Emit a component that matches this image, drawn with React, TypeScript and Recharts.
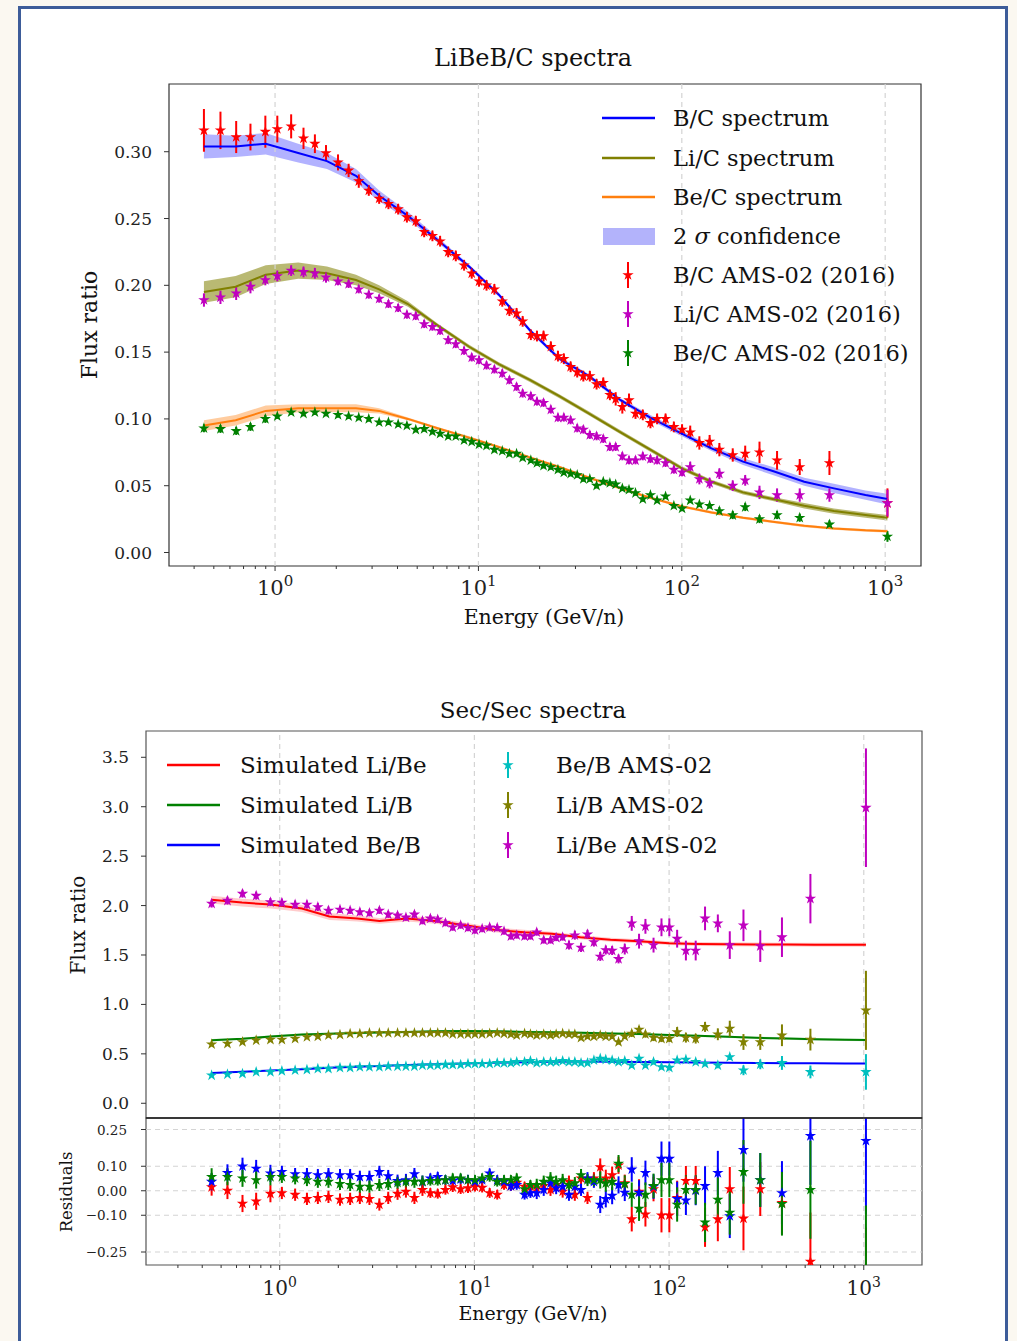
import React from 'react';
import {
  ComposedChart,
  Line,
  Area,
  Scatter,
  ErrorBar,
  XAxis,
  YAxis,
  ZAxis,
  ReferenceLine,
  ReferenceArea,
  Symbols
} from 'recharts';

// ============================================
// DATOS
// ============================================

const FONT = '"DejaVu Serif", serif';

// kinetic energy per nucleon (GeV/n) of the AMS-02 bins
const energy = [
  0.447, 0.539, 0.644, 0.757, 0.896, 1.026, 1.2, 1.38, 1.57, 1.78,
  2.04, 2.3, 2.58, 2.89, 3.25, 3.61, 4.03, 4.45, 4.92, 5.41,
  5.94, 6.48, 7.1, 7.74, 8.5, 9.27, 10.07, 10.96, 11.98, 13.1,
  14.2, 15.4, 16.5, 18.1, 19.4, 20.9, 22.7, 24.6, 26.3, 28.4,
  30.6, 32.8, 35.3, 38.1, 41.1, 44.3, 47.3, 51.0, 55.0, 59.2,
  64.3, 70.1, 75.6, 83.2, 91.4, 100.3, 110, 122, 137, 153,
  178, 205, 241, 294, 380, 532, 1026
];

const bcRatio = [
  0.316, 0.316, 0.311, 0.311, 0.315, 0.317, 0.319, 0.31, 0.306, 0.299,
  0.292, 0.286, 0.278, 0.271, 0.265, 0.261, 0.257, 0.251, 0.248, 0.24,
  0.237, 0.233, 0.225, 0.222, 0.215, 0.209, 0.203, 0.2, 0.197, 0.188,
  0.181, 0.179, 0.173, 0.163, 0.162, 0.162, 0.154, 0.147, 0.145, 0.139,
  0.135, 0.132, 0.132, 0.126, 0.127, 0.118, 0.115, 0.109, 0.114, 0.104,
  0.103, 0.097, 0.1, 0.1, 0.094, 0.092, 0.09, 0.082, 0.083, 0.077,
  0.073, 0.074, 0.075, 0.069, 0.064, 0.067, 0.037
];
const bcErr = [
  0.016, 0.014, 0.012, 0.01, 0.012, 0.01, 0.009, 0.008, 0.007, 0.006,
  0.006, 0.005, 0.005, 0.004, 0.004, 0.004, 0.004, 0.004, 0.004, 0.004,
  0.004, 0.004, 0.004, 0.004, 0.004, 0.004, 0.004, 0.004, 0.004, 0.004,
  0.004, 0.004, 0.004, 0.004, 0.004, 0.004, 0.004, 0.004, 0.004, 0.004,
  0.004, 0.004, 0.004, 0.004, 0.004, 0.004, 0.005, 0.005, 0.005, 0.004,
  0.004, 0.004, 0.004, 0.004, 0.004, 0.004, 0.005, 0.005, 0.005, 0.005,
  0.005, 0.006, 0.008, 0.007, 0.006, 0.009, 0.011
];

const liRatio = [
  0.189, 0.191, 0.194, 0.199, 0.204, 0.207, 0.211, 0.21, 0.209, 0.206,
  0.203, 0.201, 0.197, 0.193, 0.19, 0.186, 0.183, 0.178, 0.177, 0.171,
  0.169, 0.166, 0.159, 0.156, 0.151, 0.146, 0.144, 0.14, 0.137, 0.134,
  0.129, 0.124, 0.119, 0.117, 0.113, 0.112, 0.107, 0.101, 0.101, 0.099,
  0.093, 0.092, 0.088, 0.087, 0.085, 0.079, 0.079, 0.072, 0.069, 0.069,
  0.072, 0.07, 0.069, 0.067, 0.062, 0.06, 0.064, 0.055, 0.052, 0.059,
  0.05, 0.054, 0.045, 0.043, 0.043, 0.043, 0.037
];
const liErr = [
  0.005, 0.005, 0.005, 0.005, 0.004, 0.004, 0.004, 0.004, 0.004, 0.004,
  0.003, 0.003, 0.003, 0.003, 0.003, 0.003, 0.003, 0.003, 0.003, 0.003,
  0.003, 0.003, 0.003, 0.003, 0.003, 0.003, 0.003, 0.003, 0.003, 0.003,
  0.003, 0.003, 0.003, 0.003, 0.003, 0.003, 0.003, 0.003, 0.003, 0.003,
  0.003, 0.003, 0.003, 0.003, 0.003, 0.003, 0.003, 0.003, 0.003, 0.003,
  0.003, 0.003, 0.003, 0.003, 0.003, 0.003, 0.004, 0.004, 0.004, 0.004,
  0.004, 0.004, 0.005, 0.005, 0.005, 0.005, 0.01
];

const beRatio = [
  0.093, 0.0925, 0.091, 0.094, 0.1, 0.102, 0.105, 0.104, 0.105, 0.104,
  0.103, 0.102, 0.101, 0.1, 0.0975, 0.0975, 0.096, 0.095, 0.092, 0.0925,
  0.0905, 0.089, 0.087, 0.087, 0.084, 0.083, 0.081, 0.08, 0.077, 0.076,
  0.074, 0.074, 0.071, 0.069, 0.067, 0.065, 0.064, 0.062, 0.06, 0.059,
  0.058, 0.055, 0.055, 0.05, 0.053, 0.052, 0.051, 0.048, 0.047, 0.0445,
  0.04, 0.043, 0.039, 0.042, 0.035, 0.033, 0.039, 0.036, 0.035, 0.031,
  0.028, 0.034, 0.025, 0.028, 0.026, 0.021, 0.012
];
const beErr = [
  0.003, 0.003, 0.003, 0.003, 0.003, 0.002, 0.002, 0.002, 0.002, 0.002,
  0.002, 0.002, 0.002, 0.002, 0.002, 0.002, 0.002, 0.002, 0.002, 0.002,
  0.002, 0.002, 0.002, 0.002, 0.002, 0.002, 0.002, 0.002, 0.002, 0.002,
  0.002, 0.002, 0.002, 0.002, 0.002, 0.002, 0.002, 0.002, 0.002, 0.002,
  0.002, 0.002, 0.002, 0.002, 0.002, 0.002, 0.002, 0.002, 0.002, 0.002,
  0.002, 0.002, 0.002, 0.002, 0.002, 0.002, 0.002, 0.002, 0.002, 0.003,
  0.003, 0.003, 0.003, 0.003, 0.003, 0.003, 0.004
];

const libeRatio = [
  2.02, 2.05, 2.12, 2.1, 2.035, 2.03, 2.01, 2.01, 1.985, 1.95,
  1.96, 1.95, 1.935, 1.925, 1.95, 1.91, 1.9, 1.88, 1.91, 1.845,
  1.87, 1.86, 1.825, 1.78, 1.8, 1.775, 1.75, 1.765, 1.78, 1.775,
  1.74, 1.69, 1.7, 1.69, 1.69, 1.73, 1.65, 1.65, 1.675, 1.68,
  1.6, 1.7, 1.575, 1.71, 1.63, 1.485, 1.55, 1.545, 1.46, 1.56,
  1.82, 1.64, 1.79, 1.6, 1.78, 1.78, 1.665, 1.545, 1.545, 1.87,
  1.82, 1.6, 1.8, 1.59, 1.68, 2.07, 2.99
];
const libeErr = [
  0.04, 0.04, 0.04, 0.04, 0.04, 0.04, 0.04, 0.04, 0.04, 0.04,
  0.035, 0.035, 0.035, 0.035, 0.035, 0.035, 0.035, 0.035, 0.035, 0.035,
  0.035, 0.035, 0.035, 0.035, 0.035, 0.035, 0.035, 0.035, 0.035, 0.035,
  0.035, 0.035, 0.035, 0.035, 0.035, 0.035, 0.035, 0.035, 0.035, 0.035,
  0.045, 0.045, 0.045, 0.045, 0.045, 0.045, 0.045, 0.045, 0.045, 0.055,
  0.075, 0.075, 0.075, 0.075, 0.09, 0.09, 0.09, 0.1, 0.1, 0.12,
  0.09, 0.14, 0.16, 0.16, 0.2, 0.25, 0.6
];

const libRatio = [
  0.597, 0.603, 0.62, 0.637, 0.644, 0.644, 0.654, 0.67, 0.677, 0.688,
  0.694, 0.704, 0.704, 0.711, 0.711, 0.711, 0.711, 0.711, 0.711, 0.711,
  0.711, 0.711, 0.711, 0.7, 0.7, 0.7, 0.7, 0.7, 0.705, 0.711,
  0.705, 0.698, 0.688, 0.705, 0.698, 0.688, 0.698, 0.688, 0.698, 0.705,
  0.698, 0.698, 0.664, 0.677, 0.677, 0.688, 0.677, 0.677, 0.62, 0.677,
  0.705, 0.745, 0.698, 0.664, 0.654, 0.654, 0.721, 0.664, 0.654, 0.772,
  0.698, 0.755, 0.62, 0.62, 0.688, 0.644, 0.94
];
const libErr = [
  0.02, 0.02, 0.02, 0.02, 0.02, 0.02, 0.02, 0.02, 0.02, 0.02,
  0.02, 0.02, 0.02, 0.02, 0.02, 0.02, 0.02, 0.02, 0.02, 0.02,
  0.02, 0.02, 0.02, 0.02, 0.02, 0.02, 0.02, 0.02, 0.02, 0.02,
  0.02, 0.02, 0.02, 0.02, 0.02, 0.02, 0.02, 0.02, 0.02, 0.02,
  0.025, 0.025, 0.025, 0.025, 0.025, 0.025, 0.025, 0.025, 0.025, 0.025,
  0.035, 0.035, 0.035, 0.035, 0.035, 0.035, 0.05, 0.05, 0.05, 0.05,
  0.06, 0.08, 0.08, 0.08, 0.11, 0.11, 0.4
];

const bebRatio = [
  0.283, 0.293, 0.3, 0.317, 0.317, 0.327, 0.334, 0.34, 0.35, 0.35,
  0.36, 0.36, 0.367, 0.367, 0.367, 0.374, 0.374, 0.374, 0.374, 0.384,
  0.384, 0.384, 0.39, 0.39, 0.39, 0.4, 0.4, 0.4, 0.4, 0.408,
  0.408, 0.408, 0.418, 0.418, 0.428, 0.408, 0.418, 0.418, 0.418, 0.428,
  0.418, 0.418, 0.408, 0.408, 0.435, 0.452, 0.442, 0.435, 0.418, 0.428,
  0.384, 0.452, 0.384, 0.418, 0.367, 0.36, 0.435, 0.442, 0.418, 0.4,
  0.384, 0.468, 0.334, 0.394, 0.408, 0.317, 0.317
];
const bebErr = [
  0.015, 0.015, 0.015, 0.015, 0.015, 0.015, 0.015, 0.015, 0.015, 0.015,
  0.015, 0.015, 0.015, 0.015, 0.015, 0.015, 0.015, 0.015, 0.015, 0.015,
  0.015, 0.015, 0.015, 0.015, 0.015, 0.015, 0.015, 0.015, 0.015, 0.015,
  0.015, 0.015, 0.015, 0.015, 0.015, 0.015, 0.015, 0.015, 0.015, 0.015,
  0.015, 0.015, 0.015, 0.015, 0.015, 0.015, 0.015, 0.015, 0.015, 0.015,
  0.025, 0.025, 0.025, 0.025, 0.025, 0.025, 0.025, 0.025, 0.025, 0.025,
  0.03, 0.03, 0.05, 0.05, 0.07, 0.065, 0.18
];

// residuals: red = Li/Be, green = Li/B, blue = Be/B
const resLiBe = [
  0.015, 0.001, -0.052, -0.043, -0.012, -0.009, -0.016, -0.033, -0.029, -0.025,
  -0.036, -0.033, -0.029, -0.033, -0.056, -0.029, -0.012, -0.003, -0.029, 0.004,
  -0.009, -0.012, 0.004, 0.015, 0.007, 0.011, 0.017, 0.013, -0.009, -0.016,
  0.024, 0.02, 0.033, 0.017, 0.017, 0.011, 0.02, 0.004, 0.024, -0.003,
  0.037, -0.016, 0.051, -0.029, 0.051, 0.097, 0.051, 0.064, 0.104, 0.031,
  -0.116, -0.003, -0.096, 0.007, -0.1, -0.1, -0.029, 0.041, 0.041, -0.149,
  -0.116, 0.007, -0.113, 0.007, -0.049, -0.289, -0.45
];
const resLiB = [
  0.057, 0.057, 0.051, 0.044, 0.057, 0.057, 0.051, 0.044, 0.037, 0.037,
  0.028, 0.024, 0.017, 0.017, 0.024, 0.028, 0.033, 0.037, 0.037, 0.037,
  0.041, 0.041, 0.044, 0.051, 0.051, 0.044, 0.044, 0.051, 0.057, 0.037,
  0.044, 0.044, 0.051, 0.007, 0.024, 0.024, 0.037, 0.051, 0.037, 0.044,
  0.024, 0.031, 0.064, 0.044, 0.044, 0.044, 0.031, 0.037, 0.111, 0.028,
  -0.016, -0.073, -0.016, 0.02, 0.044, 0.044, -0.056, 0.004, 0.004, -0.129,
  -0.036, -0.089, 0.077, 0.044, -0.053, 0.004, -0.36
];
const resBeB = [
  0.037, 0.073, 0.1, 0.091, 0.071, 0.077, 0.068, 0.068, 0.064, 0.068,
  0.064, 0.064, 0.057, 0.057, 0.077, 0.06, 0.041, 0.044, 0.068, 0.037,
  0.051, 0.057, 0.044, 0.041, 0.047, 0.044, 0.037, 0.044, 0.071, 0.044,
  0.037, 0.02, 0.024, -0.016, -0.009, -0.009, 0.004, 0.031, 0.011, 0.017,
  -0.016, 0.017, 0.004, 0.051, 0.037, -0.056, -0.033, -0.02, 0.024, -0.007,
  0.087, -0.007, 0.073, 0.017, 0.131, 0.131, -0.033, -0.039, 0.001, 0.02,
  0.073, -0.103, 0.167, 0.044, -0.009, 0.224, 0.204
];
const resErr = [
  0.035, 0.035, 0.035, 0.035, 0.035, 0.025, 0.025, 0.025, 0.025, 0.025,
  0.025, 0.025, 0.025, 0.025, 0.025, 0.025, 0.025, 0.025, 0.025, 0.025,
  0.02, 0.02, 0.02, 0.02, 0.02, 0.02, 0.02, 0.02, 0.02, 0.02,
  0.02, 0.02, 0.02, 0.02, 0.02, 0.025, 0.025, 0.025, 0.025, 0.025,
  0.025, 0.025, 0.025, 0.025, 0.025, 0.035, 0.035, 0.035, 0.035, 0.035,
  0.05, 0.05, 0.05, 0.05, 0.07, 0.07, 0.07, 0.06, 0.06, 0.08,
  0.09, 0.09, 0.13, 0.11, 0.13, 0.2, 0.3
];

// simulated spectra (model grid)
const modelEnergy = [
  0.447, 0.64, 0.9, 1.3, 1.8, 2.5, 3.25, 4.5, 6.3, 9, 12.6, 18,
  25, 35, 50, 70, 100, 140, 200, 280, 400, 560, 800, 1026
];
const bcModel = [
  0.304, 0.304, 0.306, 0.299, 0.293, 0.282, 0.267, 0.252, 0.234, 0.214, 0.193, 0.166,
  0.145, 0.132, 0.114, 0.101, 0.089, 0.078, 0.068, 0.061, 0.053, 0.048, 0.043, 0.04
];
const bcBandW = [
  0.009, 0.008, 0.008, 0.007, 0.006, 0.005, 0.004, 0.003, 0.002, 0.0015, 0.0015, 0.0015,
  0.0015, 0.0015, 0.0015, 0.002, 0.002, 0.002, 0.0025, 0.003, 0.003, 0.0035, 0.0035, 0.004
];
const liModel = [
  0.195, 0.199, 0.208, 0.211, 0.209, 0.204, 0.197, 0.186, 0.17, 0.154, 0.141, 0.129,
  0.117, 0.104, 0.09, 0.077, 0.063, 0.053, 0.045, 0.04, 0.035, 0.031, 0.028, 0.026
];
const liBandW = [
  0.008, 0.008, 0.007, 0.006, 0.005, 0.004, 0.003, 0.002, 0.0015, 0.0015, 0.0015, 0.0015,
  0.0015, 0.0015, 0.0015, 0.0015, 0.0015, 0.0015, 0.0015, 0.0015, 0.002, 0.002, 0.002, 0.002
];
const beModel = [
  0.095, 0.099, 0.106, 0.108, 0.108, 0.108, 0.106, 0.1, 0.093, 0.086, 0.079, 0.071,
  0.064, 0.056, 0.048, 0.041, 0.0345, 0.03, 0.026, 0.023, 0.02, 0.018, 0.0166, 0.016
];
const beBandW = [
  0.004, 0.004, 0.004, 0.003, 0.003, 0.003, 0.002, 0.001, 0.001, 0.001, 0.001, 0.001,
  0.001, 0.001, 0.001, 0.001, 0.001, 0.001, 0.001, 0.001, 0.001, 0.001, 0.001, 0.001
];
const libeModel = [
  2.06, 2.03, 2.01, 1.97, 1.89, 1.87, 1.845, 1.87, 1.845, 1.8, 1.756, 1.73,
  1.715, 1.68, 1.655, 1.64, 1.62, 1.612, 1.608, 1.606, 1.605, 1.604, 1.603, 1.603
];
const libeBandW = [
  0.04, 0.04, 0.04, 0.035, 0.035, 0.03, 0.03, 0.03, 0.03, 0.025, 0.025, 0.025,
  0.02, 0.02, 0.02, 0.02, 0.02, 0.02, 0.02, 0.02, 0.02, 0.02, 0.02, 0.02
];
const libModel = [
  0.637, 0.652, 0.675, 0.695, 0.703, 0.71, 0.715, 0.722, 0.728, 0.73, 0.728, 0.722,
  0.718, 0.713, 0.707, 0.7, 0.69, 0.682, 0.672, 0.662, 0.655, 0.648, 0.642, 0.64
];
const bebModel = [
  0.307, 0.318, 0.332, 0.345, 0.36, 0.37, 0.378, 0.387, 0.394, 0.402, 0.41, 0.416,
  0.42, 0.422, 0.42, 0.418, 0.415, 0.412, 0.41, 0.408, 0.406, 0.405, 0.403, 0.402
];

// axis ranges
const TOP_X = [0.301, 1500];
const TOP_Y = [-0.0101, 0.3507];
const BOT_X = [0.2057, 1991];
const BOT_Y = [-0.149, 3.766];
const RES_Y = [-0.303, 0.297];

const topYTicks = [0, 0.05, 0.1, 0.15, 0.2, 0.25, 0.3];
const botYTicks = [0, 0.5, 1, 1.5, 2, 2.5, 3, 3.5];
const resYTicks = [-0.25, -0.1, 0, 0.1, 0.25];
const decades = [1, 10, 100, 1000];

// ============================================
// HELPERS
// ============================================

const logTicks = (lo: number, hi: number) => {
  const t: number[] = [];
  for (let e = -1; e <= 3; e++) {
    for (let m = 1; m < 10; m++) {
      const v = +(m * Math.pow(10, e)).toPrecision(3);
      if (v >= lo && v <= hi) t.push(v);
    }
  }
  return t;
};

const points = (ys: number[], errs: number[]) =>
  energy.map((x, i) => ({ x, y: ys[i], err: errs[i] }));

const topModel = modelEnergy.map((x, i) => ({
  x,
  bc: bcModel[i],
  bcBand: [bcModel[i] - bcBandW[i], bcModel[i] + bcBandW[i]],
  li: liModel[i],
  liBand: [liModel[i] - liBandW[i], liModel[i] + liBandW[i]],
  be: beModel[i],
  beBand: [beModel[i] - beBandW[i], beModel[i] + beBandW[i]]
}));

const botModel = modelEnergy.map((x, i) => ({
  x,
  libe: libeModel[i],
  libeBand: [libeModel[i] - libeBandW[i], libeModel[i] + libeBandW[i]],
  lib: libModel[i],
  libBand: [libModel[i] - 0.012, libModel[i] + 0.012],
  beb: bebModel[i],
  bebBand: [bebModel[i] - 0.006, bebModel[i] + 0.006]
}));

const makeLogTick = (size: number, supSize: number, dy: number) => (props: any) => {
  const { x, y, payload } = props;
  const e = Math.log10(payload.value);
  const major = Math.abs(e - Math.round(e)) < 1e-6;
  return (
    <g>
      <line x1={x} x2={x} y1={y} y2={y + (major ? 5 : 3)} stroke="#333" strokeWidth={1} />
      {major && (
        <text x={x} y={y + dy} textAnchor="middle" fontFamily={FONT} fontSize={size} fill="#222">
          10
          <tspan dy={-size * 0.42} fontSize={supSize}>
            {Math.round(e)}
          </tspan>
        </text>
      )}
    </g>
  );
};

const makeYTick = (size: number, digits: number, gap: number) => (props: any) => {
  const { x, y, payload } = props;
  const v = payload.value;
  const label = (v < 0 ? '\u2212' : '') + Math.abs(v).toFixed(digits);
  return (
    <g>
      <line x1={x - 5} x2={x} y1={y} y2={y} stroke="#333" strokeWidth={1} />
      <text x={x - gap} y={y} textAnchor="end" dominantBaseline="central" fontFamily={FONT} fontSize={size} fill="#222">
        {label}
      </text>
    </g>
  );
};

const Marker = ({ x, y, c }: { x: number; y: number; c: string }) => (
  <g>
    <line x1={x} x2={x} y1={y - 13} y2={y + 13} stroke={c} strokeWidth={2} />
    <Symbols cx={x} cy={y} type="star" size={40} fill={c} />
  </g>
);

const gridLine = { stroke: '#d4d4d4', strokeDasharray: '5 4', strokeWidth: 1.2 };

// ============================================
// APP
// ============================================

export default function App() {
  const topLegend = [
    { kind: 'line', c: '#0000ff', label: 'B/C spectrum' },
    { kind: 'line', c: '#808000', label: 'Li/C spectrum' },
    { kind: 'line', c: '#ff7f0e', label: 'Be/C spectrum' },
    { kind: 'band', c: '#b3b3fb', label: 'confidence' },
    { kind: 'mark', c: '#ff0000', label: 'B/C AMS-02 (2016)' },
    { kind: 'mark', c: '#bf00bf', label: 'Li/C AMS-02 (2016)' },
    { kind: 'mark', c: '#008000', label: 'Be/C AMS-02 (2016)' }
  ];
  const topRows = [118, 158, 197, 236, 275, 314, 353];
  const botLines = [
    { c: '#ff0000', label: 'Simulated Li/Be' },
    { c: '#008000', label: 'Simulated Li/B' },
    { c: '#0000ff', label: 'Simulated Be/B' }
  ];
  const botMarks = [
    { c: '#00bfbf', label: 'Be/B AMS-02' },
    { c: '#808000', label: 'Li/B AMS-02' },
    { c: '#bf00bf', label: 'Li/Be AMS-02' }
  ];
  const botRows = [765, 805, 845];

  return (
    <div style={{ position: 'absolute', left: 0, top: 0, width: 1017, height: 1341, overflow: 'hidden', background: '#fbf8f1' }}>
      <div
        style={{
          position: 'absolute', left: 18, top: 6, width: 990, height: 1400,
          boxSizing: 'border-box', border: '3px solid #3d5c99', background: '#ffffff'
        }}
      />

      {/* LiBeB/C */}
      <div style={{ position: 'absolute', left: 0, top: 0 }}>
        <ComposedChart width={1017} height={650} data={topModel} margin={{ top: 84, right: 96, bottom: 83, left: 168 }}>
          {decades.map((d) => (
            <ReferenceLine key={d} x={d} {...gridLine} />
          ))}
          <XAxis
            dataKey="x" type="number" scale="log" domain={TOP_X} allowDataOverflow
            ticks={logTicks(TOP_X[0], TOP_X[1])} interval={0} tick={makeLogTick(21, 15, 29)}
            tickLine={false} axisLine={false} tickSize={0} tickMargin={0} height={1}
          />
          <YAxis
            type="number" domain={TOP_Y} allowDataOverflow ticks={topYTicks} interval={0}
            tick={makeYTick(17, 2, 17)} tickLine={false} axisLine={false} tickSize={0} tickMargin={0} width={1}
          />
          <ZAxis type="number" range={[40, 40]} />
          <Area dataKey="bcBand" type="linear" stroke="none" fill="#0000ff" fillOpacity={0.3} isAnimationActive={false} />
          <Area dataKey="liBand" type="linear" stroke="none" fill="#808000" fillOpacity={0.55} isAnimationActive={false} />
          <Area dataKey="beBand" type="linear" stroke="none" fill="#ff7f0e" fillOpacity={0.4} isAnimationActive={false} />
          <Scatter data={points(bcRatio, bcErr)} dataKey="y" fill="#ff0000" shape="star" isAnimationActive={false}>
            <ErrorBar dataKey="err" direction="y" width={0} stroke="#ff0000" strokeWidth={2} />
          </Scatter>
          <Scatter data={points(liRatio, liErr)} dataKey="y" fill="#bf00bf" shape="star" isAnimationActive={false}>
            <ErrorBar dataKey="err" direction="y" width={0} stroke="#bf00bf" strokeWidth={2} />
          </Scatter>
          <Scatter data={points(beRatio, beErr)} dataKey="y" fill="#008000" shape="star" isAnimationActive={false}>
            <ErrorBar dataKey="err" direction="y" width={0} stroke="#008000" strokeWidth={2} />
          </Scatter>
          <Line dataKey="bc" type="linear" stroke="#0000ff" strokeWidth={2} dot={false} isAnimationActive={false} />
          <Line dataKey="li" type="linear" stroke="#808000" strokeWidth={2} dot={false} isAnimationActive={false} />
          <Line dataKey="be" type="linear" stroke="#ff7f0e" strokeWidth={2} dot={false} isAnimationActive={false} />
          <ReferenceArea x1={TOP_X[0]} x2={TOP_X[1]} y1={TOP_Y[0]} y2={TOP_Y[1]} fill="none" stroke="#333" strokeWidth={1.2} />
        </ComposedChart>
      </div>

      {/* Sec/Sec */}
      <div style={{ position: 'absolute', left: 0, top: 650 }}>
        <ComposedChart width={1017} height={480} data={botModel} margin={{ top: 81, right: 95, bottom: 12, left: 145 }}>
          {decades.map((d) => (
            <ReferenceLine key={d} x={d} {...gridLine} />
          ))}
          <XAxis dataKey="x" type="number" scale="log" domain={BOT_X} allowDataOverflow hide />
          <YAxis
            type="number" domain={BOT_Y} allowDataOverflow ticks={botYTicks} interval={0}
            tick={makeYTick(17, 1, 17)} tickLine={false} axisLine={false} tickSize={0} tickMargin={0} width={1}
          />
          <ZAxis type="number" range={[40, 40]} />
          <Area dataKey="libeBand" type="linear" stroke="none" fill="#ff0000" fillOpacity={0.2} isAnimationActive={false} />
          <Area dataKey="libBand" type="linear" stroke="none" fill="#008000" fillOpacity={0.2} isAnimationActive={false} />
          <Area dataKey="bebBand" type="linear" stroke="none" fill="#0000ff" fillOpacity={0.15} isAnimationActive={false} />
          <Line dataKey="libe" type="linear" stroke="#ff0000" strokeWidth={2} dot={false} isAnimationActive={false} />
          <Line dataKey="lib" type="linear" stroke="#008000" strokeWidth={2} dot={false} isAnimationActive={false} />
          <Line dataKey="beb" type="linear" stroke="#0000ff" strokeWidth={2} dot={false} isAnimationActive={false} />
          <Scatter data={points(bebRatio, bebErr)} dataKey="y" fill="#00bfbf" shape="star" isAnimationActive={false}>
            <ErrorBar dataKey="err" direction="y" width={0} stroke="#00bfbf" strokeWidth={2} />
          </Scatter>
          <Scatter data={points(libRatio, libErr)} dataKey="y" fill="#808000" shape="star" isAnimationActive={false}>
            <ErrorBar dataKey="err" direction="y" width={0} stroke="#808000" strokeWidth={2} />
          </Scatter>
          <Scatter data={points(libeRatio, libeErr)} dataKey="y" fill="#bf00bf" shape="star" isAnimationActive={false}>
            <ErrorBar dataKey="err" direction="y" width={0} stroke="#bf00bf" strokeWidth={2} />
          </Scatter>
          <ReferenceArea x1={BOT_X[0]} x2={BOT_X[1]} y1={BOT_Y[0]} y2={BOT_Y[1]} fill="none" stroke="#555" strokeWidth={1.2} />
        </ComposedChart>
      </div>

      {/* residuals: axes, grid and frame */}
      <div style={{ position: 'absolute', left: 0, top: 1100 }}>
        <ComposedChart width={1017} height={241} margin={{ top: 18, right: 95, bottom: 75, left: 145 }}>
          {decades.map((d) => (
            <ReferenceLine key={d} x={d} {...gridLine} />
          ))}
          {resYTicks.map((t) => (
            <ReferenceLine key={t} y={t} {...gridLine} />
          ))}
          <XAxis
            dataKey="x" type="number" scale="log" domain={BOT_X} allowDataOverflow
            ticks={logTicks(BOT_X[0], BOT_X[1])} interval={0} tick={makeLogTick(20, 14, 30)}
            tickLine={false} axisLine={false} tickSize={0} tickMargin={0} height={1}
          />
          <YAxis
            type="number" domain={RES_Y} allowDataOverflow ticks={resYTicks} interval={0}
            tick={makeYTick(13.5, 2, 19)} tickLine={false} axisLine={false} tickSize={0} tickMargin={0} width={1}
          />
          <ReferenceArea x1={BOT_X[0]} x2={BOT_X[1]} y1={RES_Y[0]} y2={RES_Y[1]} fill="none" stroke="#555" strokeWidth={1.2} />
        </ComposedChart>
      </div>

      {/* residuals: points, clipped to the panel */}
      <div style={{ position: 'absolute', left: 146, top: 1118, width: 776, height: 147, overflow: 'hidden' }}>
        <ComposedChart width={776} height={147} margin={{ top: 0, right: 0, bottom: 0, left: 0 }}>
          <XAxis dataKey="x" type="number" scale="log" domain={BOT_X} allowDataOverflow hide />
          <YAxis type="number" domain={RES_Y} allowDataOverflow hide />
          <ZAxis type="number" range={[40, 40]} />
          <Scatter data={points(resLiBe, resErr)} dataKey="y" fill="#ff0000" shape="star" isAnimationActive={false}>
            <ErrorBar dataKey="err" direction="y" width={0} stroke="#ff0000" strokeWidth={2} />
          </Scatter>
          <Scatter data={points(resBeB, resErr)} dataKey="y" fill="#0000ff" shape="star" isAnimationActive={false}>
            <ErrorBar dataKey="err" direction="y" width={0} stroke="#0000ff" strokeWidth={2} />
          </Scatter>
          <Scatter data={points(resLiB, resErr)} dataKey="y" fill="#008000" shape="star" isAnimationActive={false}>
            <ErrorBar dataKey="err" direction="y" width={0} stroke="#008000" strokeWidth={2} />
          </Scatter>
        </ComposedChart>
      </div>

      {/* titles, labels, legends */}
      <svg width={1017} height={1341} style={{ position: 'absolute', left: 0, top: 0, pointerEvents: 'none' }} fontFamily={FONT}>
        <line x1={146} x2={922} y1={1118} y2={1118} stroke="#222" strokeWidth={1.4} />
        <text x={533} y={58} textAnchor="middle" dominantBaseline="central" fontSize={24} fill="#111">LiBeB/C spectra</text>
        <text x={544} y={617} textAnchor="middle" dominantBaseline="central" fontSize={20.5} fill="#111">Energy (GeV/n)</text>
        <text transform="translate(89 325) rotate(-90)" textAnchor="middle" dominantBaseline="central" fontSize={22} fill="#111">Flux ratio</text>

        <text x={533} y={710} textAnchor="middle" dominantBaseline="central" fontSize={23} fill="#111">Sec/Sec spectra</text>
        <text transform="translate(78 925) rotate(-90)" textAnchor="middle" dominantBaseline="central" fontSize={20} fill="#111">Flux ratio</text>
        <text transform="translate(66 1192) rotate(-90)" textAnchor="middle" dominantBaseline="central" fontSize={16.5} fill="#111">Residuals</text>
        <text x={533} y={1313} textAnchor="middle" dominantBaseline="central" fontSize={19} fill="#111">Energy (GeV/n)</text>

        {topLegend.map((e, i) => {
          const y = topRows[i];
          return (
            <g key={e.label}>
              {e.kind === 'line' && <line x1={602} x2={655} y1={y} y2={y} stroke={e.c} strokeWidth={2.5} />}
              {e.kind === 'band' && <rect x={603} y={y - 8} width={52} height={17} fill={e.c} />}
              {e.kind === 'mark' && <Marker x={628} y={y} c={e.c} />}
              <text x={673} y={y} dominantBaseline="central" fontSize={22.5} fill="#111">
                {e.kind === 'band' ? (
                  <>
                    2 <tspan fontStyle="italic">σ</tspan> {e.label}
                  </>
                ) : (
                  e.label
                )}
              </text>
            </g>
          );
        })}

        {botLines.map((e, i) => (
          <g key={e.label}>
            <line x1={167} x2={220} y1={botRows[i]} y2={botRows[i]} stroke={e.c} strokeWidth={2.5} />
            <text x={240} y={botRows[i]} dominantBaseline="central" fontSize={23} fill="#111">{e.label}</text>
          </g>
        ))}
        {botMarks.map((e, i) => (
          <g key={e.label}>
            <Marker x={508} y={botRows[i]} c={e.c} />
            <text x={556} y={botRows[i]} dominantBaseline="central" fontSize={23} fill="#111">{e.label}</text>
          </g>
        ))}
      </svg>
    </div>
  );
}
